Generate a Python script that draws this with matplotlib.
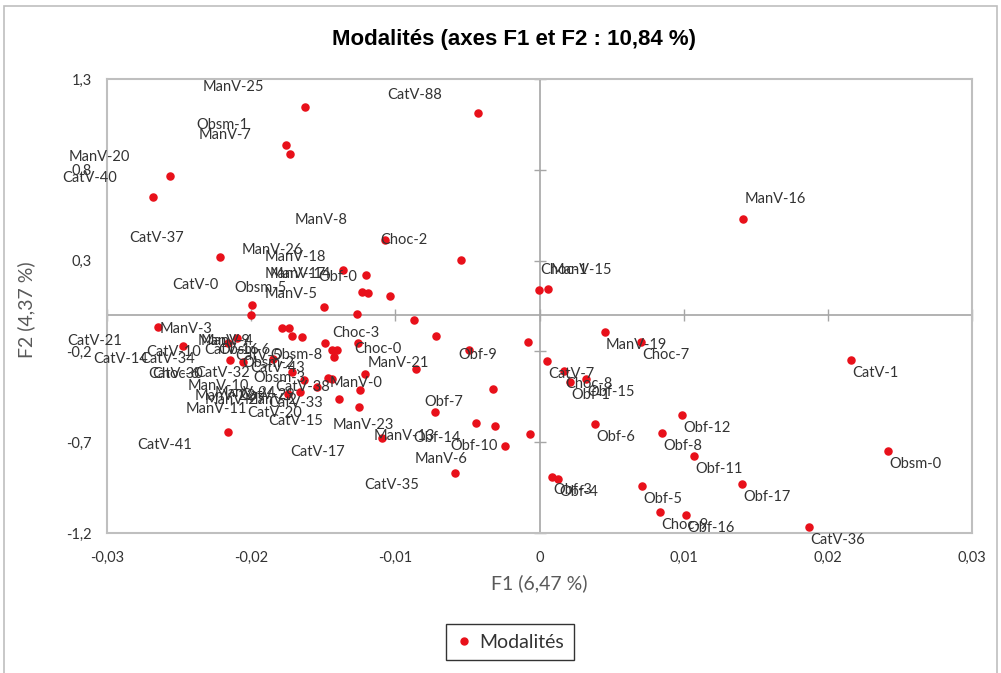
import matplotlib
matplotlib.use("Agg")
import matplotlib.pyplot as plt
from matplotlib.patches import Rectangle
from matplotlib.lines import Line2D

# --- data: coordinates of the modalities on F1 / F2 ---
names = [
    "ManV-25", "Obsm-1", "ManV-7", "ManV-20", "CatV-40", "CatV-37", "CatV-88",
    "ManV-8", "Choc-2", "ManV-26", "ManV-18", "ManV-17", "ManV-14", "Obf-0",
    "CatV-0", "Obsm-5", "ManV-5", "Choc-1", "ManV-15", "ManV-16",
    "ManV-3", "CatV-21", "CatV-10", "CatV-14", "CatV-34", "Choc-6", "CatV-30",
    "ManV-9", "ManV-4", "CatV-16", "Obsm-6", "Obsm-8", "CatV-43", "Obsm-3",
    "CatV-32", "ManV-10", "ManV-22", "ManV-24", "ManV-27", "ManV-11", "CatV-29",
    "ManV-2", "CatV-38", "CatV-33", "CatV-20", "CatV-15", "ManV-0", "ManV-21",
    "Obf-9", "Choc-0", "Choc-3", "ManV-23", "Obf-7", "Obf-14", "Obf-10",
    "ManV-6", "CatV-35", "ManV-13", "CatV-17", "CatV-41", "CatV-5", "Obsm-2",
    "ManV-19", "Choc-7", "CatV-1", "CatV-7", "Choc-8", "Obf-1", "Obf-15",
    "Obf-12", "Obf-6", "Obf-8", "Obf-11", "Obf-3", "Obf-4", "Obf-5", "Obf-17",
    "Choc-9", "Obf-16", "CatV-36", "Obsm-0",
]
f1 = [
    -0.01627, -0.01758, -0.01731, -0.02563, -0.02681, -0.02216, -0.00427,
    -0.01072, -0.00544, -0.01363, -0.01203, -0.01231, -0.01190, -0.01037,
    -0.01994, -0.01495, -0.01266, -0.00003, 0.00059, 0.01411,
    -0.02001, -0.02646, -0.02098, -0.02473, -0.02161, -0.02057, -0.02147,
    -0.01737, -0.01786, -0.01717, -0.01647, -0.01259, -0.01425, -0.01405,
    -0.01848, -0.01717, -0.01633, -0.01543, -0.01661, -0.01744, -0.01467,
    -0.01439, -0.01210, -0.01245, -0.01391, -0.01252, -0.00857, -0.00489,
    -0.00080, -0.00718, -0.00870, -0.00725, -0.00323, -0.00309, -0.00066,
    -0.00239, -0.00586, -0.00440, -0.01092, -0.02161, -0.01488, -0.01439,
    0.00454, 0.00704, 0.02161, 0.00052, 0.00170, 0.00212, 0.00323,
    0.00988, 0.00385, 0.00850, 0.01072, 0.00087, 0.00128, 0.00711, 0.01405,
    0.00836, 0.01016, 0.01869, 0.02417,
]
f2 = [
    1.145, 0.936, 0.887, 0.765, 0.650, 0.319, 1.112,
    0.413, 0.303, 0.248, 0.220, 0.127, 0.121, 0.105,
    0.055, 0.044, 0.006, 0.138, 0.143, 0.529,
    -0.002, -0.066, -0.127, -0.171, -0.154, -0.259, -0.248,
    -0.072, -0.072, -0.116, -0.121, -0.154, -0.231, -0.193,
    -0.242, -0.314, -0.358, -0.397, -0.424, -0.435, -0.347,
    -0.352, -0.325, -0.413, -0.463, -0.507, -0.297, -0.193,
    -0.149, -0.116, -0.028, -0.534, -0.408, -0.611, -0.655,
    -0.721, -0.870, -0.595, -0.677, -0.644, -0.154, -0.193,
    -0.094, -0.149, -0.248, -0.253, -0.308, -0.369, -0.352,
    -0.551, -0.600, -0.650, -0.776, -0.892, -0.903, -0.942, -0.931,
    -1.085, -1.101, -1.168, -0.749,
]

# label offsets in pixels (dx right, dy up) as laid out in the source chart
label_offsets = {
    "ManV-25": (-102, 20), "Obsm-1": (-90, 20), "ManV-7": (-91, 19),
    "ManV-20": (-101, 19), "CatV-40": (-91, 19), "CatV-37": (-91, 19),
    "CatV-88": (-91, 18), "ManV-8": (-90, 20), "Choc-2": (-81, 20),
    "ManV-26": (-101, 20), "ManV-18": (-101, 18), "ManV-17": (-97, 18),
    "ManV-14": (-98, 19), "Obf-0": (-72, 19), "CatV-0": (-80, 20),
    "Obsm-5": (-90, 19), "ManV-5": (-92, 20), "Choc-1": (1, 20),
    "ManV-15": (3, 19), "ManV-16": (2, 20),
    "ManV-3": (-91, -14), "CatV-21": (-91, -14), "CatV-10": (-91, -14),
    "CatV-14": (-90, -13), "CatV-34": (-88, -16), "Choc-6": (-91, -12),
    "CatV-30": (-82, -14), "ManV-9": (-91, -13), "ManV-4": (-81, -13),
    "CatV-16": (-88, -14), "Obsm-6": (-84, -13), "Obsm-8": (-88, -12),
    "CatV-43": (-84, -11), "Obsm-3": (-84, -28), "CatV-32": (-78, -14),
    "ManV-10": (-104, -14), "ManV-22": (-109, -16), "ManV-24": (-102, -6),
    "ManV-27": (-95, -8), "ManV-11": (-102, -15), "CatV-29": (-88, -17),
    "ManV-2": (-87, -21), "CatV-38": (-90, -13), "CatV-33": (-92, -13),
    "CatV-20": (-92, -14), "CatV-15": (-91, -14), "ManV-0": (-86, -14),
    "ManV-21": (-101, -13), "Obf-9": (-70, -13), "Choc-0": (-82, -13),
    "Choc-3": (-82, -13), "ManV-23": (-102, -13), "Obf-7": (-69, -13),
    "Obf-14": (-82, -12), "Obf-10": (-80, -12), "ManV-6": (-90, -13),
    "CatV-35": (-91, -12), "ManV-13": (-102, -13), "CatV-17": (-92, -14),
    "CatV-41": (-91, -13), "CatV-5": (-90, -13), "Obsm-2": (-90, -13),
}
default_offset = (1, -13)

xticks = [-0.03, -0.02, -0.01, 0, 0.01, 0.02, 0.03]
xtick_labels = ["-0,03", "-0,02", "-0,01", "0", "0,01", "0,02", "0,03"]
yticks = [1.3, 0.8, 0.3, -0.2, -0.7, -1.2]
ytick_labels = ["1,3", "0,8", "0,3", "-0,2", "-0,7", "-1,2"]

plt.rcParams['font.family'] = ['Lato', 'DejaVu Sans']
grey_txt = '#333333'

fig = plt.figure(figsize=(10.01, 6.73), dpi=100)
ax = fig.add_axes([107 / 1001, 1 - 533 / 673, 865 / 1001, 454 / 673])

ax.set_xlim(-0.03, 0.03)
ax.set_ylim(-1.2, 1.3)

# zero axes with cross ticks
ax.axhline(0, color='#A6A6A6', lw=1.2, zorder=1)
ax.axvline(0, color='#A6A6A6', lw=1.2, zorder=1)
ax.plot([0] * len(yticks), yticks, ls='none', marker='_', ms=9, mew=1.0,
        color='#A6A6A6', zorder=1, clip_on=False)
ax.plot(xticks, [0] * len(xticks), ls='none', marker='|', ms=9, mew=1.0,
        color='#A6A6A6', zorder=1, clip_on=False)

ax.scatter(f1, f2, s=26, color='#E8101A', zorder=3, label='Modalités')

for name, x, y in zip(names, f1, f2):
    dx, dy = label_offsets.get(name, default_offset)
    ax.annotate(name, (x, y), xytext=(dx, dy), textcoords='offset pixels',
                ha='left', va='center', fontsize=10.5, color=grey_txt, zorder=4)

ax.set_xticks(xticks)
ax.set_xticklabels(xtick_labels)
ax.set_yticks(yticks)
ax.set_yticklabels(ytick_labels)
ax.tick_params(length=0, labelsize=10.5, labelcolor=grey_txt)
ax.tick_params(axis='x', pad=13)
ax.tick_params(axis='y', pad=11)
for sp in ax.spines.values():
    sp.set_color('#BFBFBF')
    sp.set_linewidth(1.5)

fig.text(514 / 1001, 1 - 40 / 673, "Modalités (axes F1 et F2 : 10,84 %)",
         ha='center', va='center', fontsize=16, fontweight='bold',
         family=['Liberation Sans Narrow', 'Liberation Sans', 'DejaVu Sans'])
fig.text(539 / 1001, 1 - 583 / 673, "F1 (6,47 %)", ha='center', va='center',
         fontsize=14, color='#595959')
fig.text(26 / 1001, 1 - 310 / 673, "F2 (4,37 %)", ha='center', va='center',
         fontsize=14, color='#595959', rotation=90)

handle = Line2D([], [], ls='none', marker='o', ms=5, color='#E8101A')
leg = fig.legend([handle], ['Modalités'], loc='center',
                 bbox_to_anchor=(510 / 1001, 1 - 642 / 673),
                 frameon=True, fancybox=False, edgecolor='black',
                 fontsize=14, handlelength=0.8, handletextpad=0.4,
                 borderpad=0.5)
leg.get_frame().set_linewidth(1.0)
for t in leg.get_texts():
    t.set_color(grey_txt)

fig.add_artist(Rectangle((4 / 1001, -0.02), 993 / 1001, 1.02 - 6 / 673,
                         transform=fig.transFigure, fill=False,
                         ec='#BFBFBF', lw=1.2))

fig.savefig("out.png", dpi=100, facecolor='white')
